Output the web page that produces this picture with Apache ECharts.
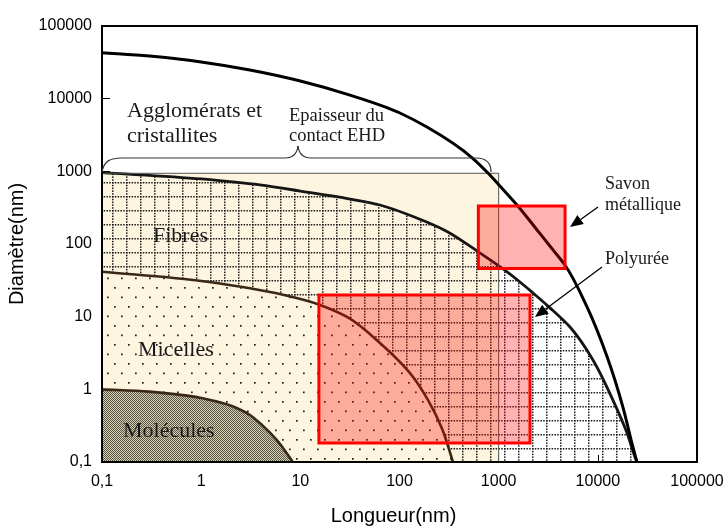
<!DOCTYPE html>
<html><head><meta charset="utf-8">
<script src="https://cdn.jsdelivr.net/npm/echarts@6/dist/echarts.min.js"></script>
<style>html,body{margin:0;padding:0;background:#fff}#c{width:726px;height:527px}</style>
</head><body><div id="c"></div>
<script>
// ---- data ----
const tickLabels = ['0,1', '1', '10', '100', '1000', '10000', '100000'];
const outerX = [0.1, 0.3, 1, 3.1, 10, 31.7, 101, 189, 551, 780, 1030, 1530, 2440, 3530, 4670, 7780, 12400, 17900, 22600, 24800];
const outerY = [43000, 38600, 32000, 24800, 17500, 11200, 6350, 4070, 1500, 948, 628, 344, 156, 83, 51, 13.6, 2.8, 0.57, 0.16, 0.1];
const fibresX = [0.1, 1, 3.9, 10, 31.7, 63.5, 137, 301, 649, 1107, 1640, 2220, 3300, 5240, 8930, 14200, 19700, 23700, 24800];
const fibresY = [960, 785, 649, 536, 416, 344, 239, 149, 75, 45.3, 30, 21.2, 13.2, 7.2, 2.54, 0.71, 0.25, 0.117, 0.1];
const micellesX = [0.1, 1, 3.1, 6.2, 15.8, 29.6, 63.5, 137, 194, 268, 346];
const micellesY = [41.6, 31, 24.6, 20.5, 14.5, 9.9, 4.35, 1.48, 0.71, 0.29, 0.1];
const moleculesX = [0.1, 0.3, 1, 2.1, 3.1, 4.1, 5.8, 8.4];
const moleculesY = [1, 0.93, 0.76, 0.58, 0.443, 0.323, 0.2, 0.1];
const ehdX = [0.1, 1000];
const ehdY = [0.1, 940];
const savonX = [624, 4670];
const savonY = [46, 334];
const polyX = [15.4, 2070];
const polyY = [0.183, 19.9];
const frameX = [0.1, 100000];
const frameY = [0.1, 100000];

// ---- patterns ----
const CREAM = '#fdf5df';
function makeCanvas(w, h, draw) { const c = document.createElement('canvas'); c.width = w; c.height = h; draw(c.getContext('2d')); return c; }
const gridPat = makeCanvas(14, 14, g => { g.fillStyle = '#1a1a1a'; for (let i = 0; i < 5; i++) { g.fillRect(i * 2.8, 0, 1.5, 1.5); g.fillRect(0, i * 2.8, 1.5, 1.5); } });
const dotPat = makeCanvas(14, 19, g => { g.fillStyle = CREAM; g.fillRect(0, 0, 14, 19); g.fillStyle = '#1e1e1e'; g.fillRect(2, 2, 1.7, 1.7); g.fillRect(9, 11.5, 1.7, 1.7); });
const checkPat = makeCanvas(2, 2, g => { g.fillStyle = '#d4cfb4'; g.fillRect(0, 0, 2, 2); g.fillStyle = '#5a5644'; g.fillRect(0, 0, 1, 1); g.fillRect(1, 1, 1, 1); });

// smooth path through pixel points (chord-weighted tangents, cubic Bezier)
function curvePath(pts) {
  const n = pts.length, tan = [];
  const dist = (a, b) => Math.hypot(b[0] - a[0], b[1] - a[1]) || 1;
  for (let i = 0; i < n; i++) {
    let tx, ty;
    if (i === 0 || i === n - 1) {
      const a = pts[i === 0 ? 0 : n - 2], b = pts[i === 0 ? 1 : n - 1];
      tx = b[0] - a[0]; ty = b[1] - a[1];
    } else {
      const a = pts[i - 1], p = pts[i], b = pts[i + 1];
      const d0 = dist(a, p), d1 = dist(p, b);
      tx = (p[0] - a[0]) / d0 * d1 + (b[0] - p[0]) / d1 * d0;
      ty = (p[1] - a[1]) / d0 * d1 + (b[1] - p[1]) / d1 * d0;
    }
    const l = Math.hypot(tx, ty) || 1;
    tan.push([tx / l, ty / l]);
  }
  let d = 'M' + pts[0][0] + ' ' + pts[0][1];
  for (let i = 0; i < n - 1; i++) {
    const p = pts[i], q = pts[i + 1], L = dist(p, q) / 3;
    d += ' C' + (p[0] + tan[i][0] * L) + ' ' + (p[1] + tan[i][1] * L) + ' ' + (q[0] - tan[i + 1][0] * L) + ' ' + (q[1] - tan[i + 1][1] * L) + ' ' + q[0] + ' ' + q[1];
  }
  return d;
}
function curveSeries(xs, ys, color, width, fill, z) {
  return { type: 'custom', z: z, silent: true, animation: false, data: xs.map((x, i) => [x, ys[i]]),
    renderItem: (params, api) => {
      if (params.dataIndex !== 0) return null;
      const pts = xs.map((x, i) => api.coord([x, ys[i]]));
      const d = curvePath(pts);
      const children = [];
      if (fill) {
        const base = api.coord([xs[0], frameY[0]])[1];
        children.push({ type: 'path', shape: { pathData: d + ' L' + pts[pts.length - 1][0] + ' ' + base + ' L' + pts[0][0] + ' ' + base + ' Z' }, style: { fill: fill, stroke: null } });
      }
      children.push({ type: 'path', shape: { pathData: d }, style: { fill: 'none', stroke: color, lineWidth: width, lineJoin: 'round' } });
      return { type: 'group', children: children };
    } };
}
function rectSeries(xs, ys, style, z) {
  return { type: 'custom', z: z, silent: true, animation: false, data: [[xs[0], ys[0], xs[1], ys[1]]],
    renderItem: (params, api) => {
      const p0 = api.coord([api.value(0), api.value(1)]);
      const p1 = api.coord([api.value(2), api.value(3)]);
      return { type: 'rect', shape: { x: Math.min(p0[0], p1[0]), y: Math.min(p0[1], p1[1]), width: Math.abs(p1[0] - p0[0]), height: Math.abs(p1[1] - p0[1]) }, style: style };
    } };
}
const serif = '"Liberation Serif", "Times New Roman", serif';
function txt(t, x, y, size) { return { type: 'text', x: x, y: y, z: 30, style: { text: t, font: size + 'px ' + serif, fill: '#1a1a1a', align: 'left', verticalAlign: 'middle' } }; }
function arrow(x1, y1, x2, y2) {
  const dx = x2 - x1, dy = y2 - y1, L = Math.hypot(dx, dy), ux = dx / L, uy = dy / L, hl = 13, hw = 5.5;
  const bx = x2 - ux * hl, by = y2 - uy * hl;
  return [
    { type: 'line', z: 30, shape: { x1: x1, y1: y1, x2: bx, y2: by }, style: { stroke: '#000', lineWidth: 1.3 } },
    { type: 'polygon', z: 30, shape: { points: [[x2, y2], [bx - uy * hw, by + ux * hw], [bx + uy * hw, by - ux * hw]] }, style: { fill: '#000' } }
  ];
}
const braceStyle = { fill: 'none', stroke: '#333', lineWidth: 1.2 };
function bez(x1, y1, c1x, c1y, c2x, c2y, x2, y2) { return { type: 'bezierCurve', z: 30, shape: { x1: x1, y1: y1, cpx1: c1x, cpy1: c1y, cpx2: c2x, cpy2: c2y, x2: x2, y2: y2 }, style: braceStyle }; }
function seg(x1, y1, x2, y2) { return { type: 'line', z: 30, shape: { x1: x1, y1: y1, x2: x2, y2: y2 }, style: braceStyle }; }

const chart = echarts.init(document.getElementById('c'), null, { renderer: 'canvas' });
const axisFont = '"Liberation Sans", Arial, sans-serif';
const fmt = v => tickLabels[Math.round(Math.log10(v)) + 1];
chart.setOption({
  animation: false,
  backgroundColor: '#fff',
  grid: { left: 102, right: 29, top: 26, bottom: 65, outerBoundsMode: 'none' },
  xAxis: { type: 'log', logBase: 10, min: 0.1, max: 100000, splitNumber: 6,
    splitLine: { show: false }, axisLine: { show: true, lineStyle: { color: '#000', width: 2 } },
    axisTick: { show: true, inside: true, length: 7, lineStyle: { color: '#000' } },
    axisLabel: { formatter: fmt, fontSize: 16, color: '#000', fontFamily: axisFont, margin: 12 },
    name: 'Longueur(nm)', nameLocation: 'middle', nameGap: 44,
    nameTextStyle: { fontSize: 20, color: '#000', fontFamily: axisFont, padding: [0, 12, 0, 0] } },
  yAxis: { type: 'log', logBase: 10, min: 0.1, max: 100000, splitNumber: 6,
    splitLine: { show: false }, axisLine: { show: true, lineStyle: { color: '#000', width: 2 } },
    axisTick: { show: true, inside: true, length: 8, lineStyle: { color: '#000' } },
    axisLabel: { formatter: fmt, fontSize: 16, color: '#000', fontFamily: axisFont, margin: 10 },
    name: 'Diamètre(nm)', nameLocation: 'middle', nameGap: 59,
    nameTextStyle: { fontSize: 20, color: '#000', fontFamily: axisFont } },
  series: [
    rectSeries(ehdX, ehdY, { fill: CREAM, stroke: null }, 1),
    curveSeries(fibresX, fibresY, '#151515', 2.8, { image: gridPat, repeat: 'repeat' }, 2),
    curveSeries(micellesX, micellesY, '#3a2816', 2.6, { image: dotPat, repeat: 'repeat' }, 3),
    curveSeries(moleculesX, moleculesY, '#3a2816', 2.6, { image: checkPat, repeat: 'repeat' }, 4),
    rectSeries(ehdX, ehdY, { fill: 'none', stroke: '#555', lineWidth: 1 }, 5),
    curveSeries(outerX, outerY, '#000', 3, null, 6),
    rectSeries(savonX, savonY, { fill: 'rgba(255,0,0,0.3)', stroke: '#ff0000', lineWidth: 3 }, 8),
    rectSeries(polyX, polyY, { fill: 'rgba(255,0,0,0.3)', stroke: '#ff0000', lineWidth: 3 }, 8),
    rectSeries(frameX, frameY, { fill: 'none', stroke: '#000', lineWidth: 2 }, 20)
  ],
  graphic: [
    txt('Agglomérats et', 127, 111, 22),
    txt('cristallites', 127, 136, 22),
    txt('Epaisseur du', 289, 115.7, 18.5),
    txt('contact EHD', 289, 135.7, 18.5),
    txt('Fibres', 153, 236, 22),
    txt('Micelles', 138, 350, 22),
    txt('Molécules', 123, 431, 22),
    txt('Savon', 605, 184, 18),
    txt('métallique', 605, 205.7, 18),
    txt('Polyurée', 605, 259, 18),
    bez(102, 172, 104, 161, 110, 158, 122, 158),
    seg(122, 158, 285, 158),
    bez(285, 158, 293, 158, 297, 154, 298, 146),
    bez(298, 146, 299, 154, 303, 158, 311, 158),
    seg(311, 158, 476, 158),
    bez(476, 158, 486, 158, 491, 162, 491, 172),
    ...arrow(598, 207, 570, 227),
    ...arrow(602, 267, 535, 317)
  ]
});
</script>
</body></html>
